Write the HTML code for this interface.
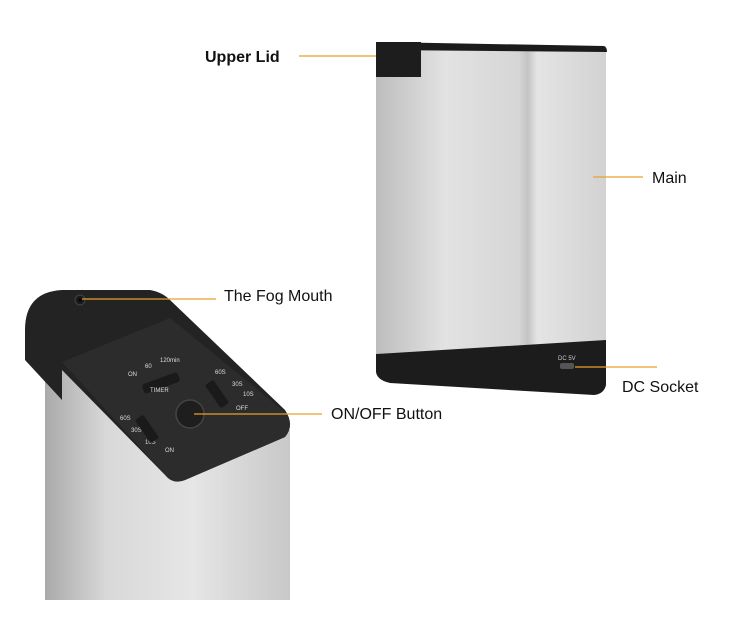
<!DOCTYPE html>
<html><head><style>
body{margin:0;background:#fff}
svg{display:block}
text{font-family:"Liberation Sans",Arial,sans-serif;fill:#111}
</style></head><body>
<svg width="750" height="630" viewBox="0 0 750 630" xmlns="http://www.w3.org/2000/svg">
<defs>
<linearGradient id="s1" x1="0" x2="1" y1="0" y2="0">
<stop offset="0" stop-color="#bdbdbd"/><stop offset="0.3" stop-color="#e2e2e2"/><stop offset="0.62" stop-color="#d6d6d6"/><stop offset="0.66" stop-color="#c4c4c4"/><stop offset="0.7" stop-color="#e4e4e4"/><stop offset="1" stop-color="#d2d2d2"/>
</linearGradient>
<linearGradient id="s2" x1="0" x2="1" y1="0" y2="0">
<stop offset="0" stop-color="#aaa"/><stop offset="0.25" stop-color="#d8d8d8"/><stop offset="0.6" stop-color="#e6e6e6"/><stop offset="1" stop-color="#c8c8c8"/>
</linearGradient>
</defs>
<!-- right device -->
<path d="M376 50 L606 50 L606 345 L376 355 Z" fill="url(#s1)"/>
<path d="M378 42 L604 46 Q607 47 607 52 L376 50 Z" fill="#1b1b1b"/>
<rect x="376" y="42" width="45" height="35" fill="#1d1d1d"/>
<path d="M376 354 L606 340 L606 385 Q604 394 594 395 L390 383 Q377 380 376 372 Z" fill="#1c1c1c"/>
<text x="558" y="360" font-size="6" style="fill:#ccc">DC 5V</text>
<rect x="560" y="363" width="14" height="6" rx="2" fill="#555"/>
<!-- left device -->
<path d="M45 360 L290 430 L290 600 L45 600 Z" fill="url(#s2)"/>
<path d="M25 330 Q25 292 62 290 L150 290 Q162 292 170 300 L285 410 Q295 425 285 437 L185 480 Q175 484 168 478 L62 370 L62 400 L25 360 Z" fill="#232323"/>
<path d="M62 362 L170 318 L285 412 Q295 425 285 437 L185 480 Q175 484 168 478 Z" fill="#2c2c2c"/>
<circle cx="80" cy="300" r="5" fill="#1a1a1a" stroke="#444"/>
<circle cx="80" cy="300" r="1.5" fill="#000"/>
<circle cx="190" cy="414" r="14" fill="#1e1e1e" stroke="#444" stroke-width="1.5"/>
<rect x="142" y="378" width="38" height="10" rx="3" fill="#1a1a1a" transform="rotate(-20 161 383)"/>
<g font-size="6" style="fill:#ddd">
<text x="128" y="376" style="fill:#ddd">ON</text><text x="145" y="368" style="fill:#ddd">60</text><text x="160" y="362" style="fill:#ddd">120min</text>
<text x="150" y="392" style="fill:#ddd">TIMER</text>
<text x="215" y="374" style="fill:#ddd">60S</text><text x="232" y="386" style="fill:#ddd">30S</text><text x="243" y="396" style="fill:#ddd">10S</text><text x="236" y="410" style="fill:#ddd">OFF</text>
<text x="120" y="420" style="fill:#ddd">60S</text><text x="131" y="432" style="fill:#ddd">30S</text><text x="145" y="444" style="fill:#ddd">10S</text><text x="165" y="452" style="fill:#ddd">ON</text>
</g>
<rect x="212" y="380" width="10" height="28" rx="2" fill="#1a1a1a" transform="rotate(-35 217 394)"/>
<rect x="142" y="415" width="10" height="28" rx="2" fill="#1a1a1a" transform="rotate(-35 147 429)"/>
<!-- leaders -->
<g stroke="#e8a02a" stroke-width="1.2">
<line x1="299" y1="56" x2="376" y2="56"/>
<line x1="593" y1="177" x2="643" y2="177"/>
<line x1="575" y1="367" x2="657" y2="367"/>
<line x1="82" y1="299" x2="216" y2="299"/>
<line x1="194" y1="414" x2="322" y2="414"/>
</g>
<text x="205" y="62" font-size="16" style="font-weight:bold;fill:#111">Upper Lid</text>
<text x="652" y="183" font-size="16">Main</text>
<text x="622" y="392" font-size="16">DC Socket</text>
<text x="224" y="301" font-size="16">The Fog Mouth</text>
<text x="331" y="419" font-size="16">ON/OFF Button</text>
</svg>
</body></html>
